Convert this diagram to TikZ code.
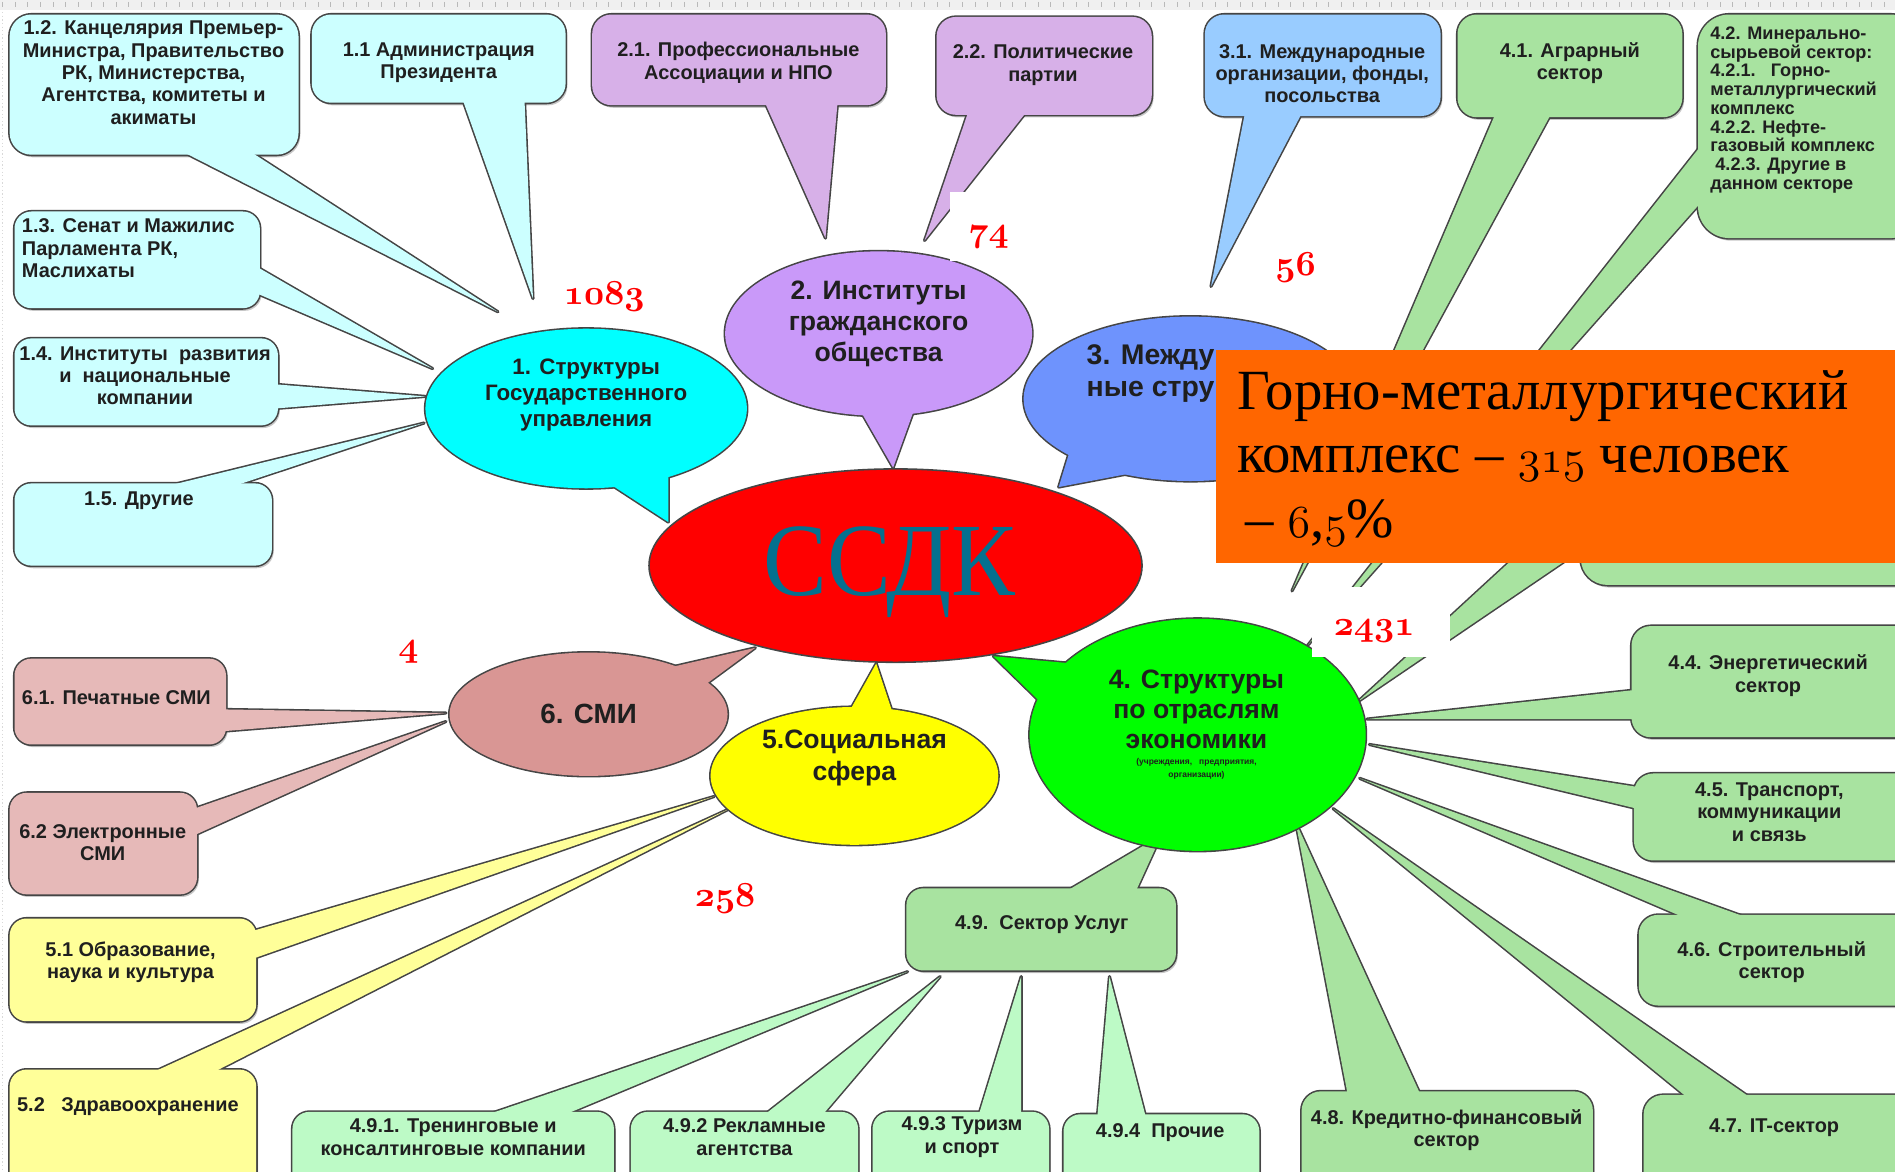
\documentclass[tikz,border=0pt]{standalone}
\usepackage{graphicx}
\usepackage{fontspec}
\setmainfont{Liberation Sans}
\newfontfamily\serf{Liberation Serif}
\newfontfamily\serfc[FakeStretch=0.92]{Liberation Serif}
\usetikzlibrary{shapes.geometric}
\newcommand\osnb[1]{\scalebox{1.166}{\fontencoding{OML}\fontfamily{cmm}\fontseries{b}\fontshape{it}\fontsize{24.88}{26}\selectfont #1}}
\newcommand\osnm[1]{\scalebox{1.527}{\fontencoding{OML}\fontfamily{cmm}\fontseries{m}\fontshape{it}\fontsize{24.88}{26}\selectfont #1}}
\definecolor{edgecol}{HTML}{454545}
\definecolor{txtcol}{HTML}{1F1F1F}
\definecolor{cyanbox}{HTML}{CCFFFF}
\definecolor{cyanell}{HTML}{00FFFF}
\definecolor{purbox}{HTML}{D7B0E8}
\definecolor{purell}{HTML}{C999F9}
\definecolor{bluebox}{HTML}{99CCFF}
\definecolor{blueell}{HTML}{6E93FD}
\definecolor{grnbox}{HTML}{A8E3A0}
\definecolor{grnell}{HTML}{00FF00}
\definecolor{mintbox}{HTML}{BDFAC6}
\definecolor{yelbox}{HTML}{FFFF99}
\definecolor{yelell}{HTML}{FFFF00}
\definecolor{rosebox}{HTML}{E6B9B8}
\definecolor{roseell}{HTML}{D99694}
\definecolor{redell}{HTML}{FF0000}
\definecolor{orng}{HTML}{FF6600}
\definecolor{tealtxt}{HTML}{05708F}
% callout box: fill, radius, corner1, corner2, base A, base B, tip
\newcommand\CBox[7]{%
  \fill[black,opacity=0.22,rounded corners=#2,shift={(1.5,2.2)}] #3 rectangle #4;
  \draw[outl,rounded corners=#2] #3 rectangle #4;
  \draw[outl] #5 -- #7 -- #6 -- cycle;
  \fill[#1,rounded corners=#2] #3 rectangle #4;
  \fill[#1] #5 -- #7 -- #6 -- cycle;}
% callout ellipse: fill, centre, rx, ry, base A, base B, tip
\newcommand\CEll[7]{%
  \draw[outl] #2 ellipse [x radius=#3,y radius=#4];
  \draw[outl] #5 -- #7 -- #6 -- cycle;
  \fill[#1] #2 ellipse [x radius=#3,y radius=#4];
  \fill[#1] #5 -- #7 -- #6 -- cycle;}
\begin{document}
\begin{tikzpicture}[x=1pt,y=-1pt,
  outl/.style={draw=edgecol,line width=2.6pt,line join=round},
  lbl/.style={font=\bfseries\fontsize{16.5}{18.5}\selectfont,text=txtcol,align=center,inner sep=0pt},
  lbls/.style={font=\bfseries\fontsize{15}{15.5}\selectfont,text=txtcol,align=left,inner sep=0pt},
  elbl/.style={font=\bfseries\fontsize{22}{25.5}\selectfont,text=txtcol,align=center,inner sep=0pt},
  num/.style={text=red,inner sep=0pt,anchor=base},
  otxt/.style={anchor=base west,inner sep=0pt,text=black,font=\serf\fontsize{47}{50}\selectfont},
  whitelab/.style={fill=white,draw=none}]
\useasboundingbox (0,0) rectangle (1568,969);
\clip (0,0) rectangle (1568,969);
\fill[white] (0,0) rectangle (1568,969);
% ruler strip and page edge
\fill[gray!12] (0,0) rectangle (1568,8);
\foreach \i in {0,...,150} \draw[gray!55,line width=0.5pt] (\i*10.45+2,1.5) -- (\i*10.45+2,6);
\draw[gray!30,dotted,line width=1pt] (2,10) -- (2,969);

% ---------- group 1 ----------
\CBox{cyanbox}{18pt}{(8,12)}{(247,128)}{(152,126)}{(208,126)}{(412,258)}
\node[lbl] (t12) at (127,60) {1.2. Канцелярия Премьер-\\Министра, Правительство\\РК, Министерства,\\Агентства, комитеты и\\акиматы};
\CBox{cyanbox}{16pt}{(258,12)}{(468,85)}{(383,83)}{(434,83)}{(441,247)}
\node[lbl] (t11) at (363,52) {1.1 Администрация\\Президента};
\CBox{cyanbox}{14pt}{(12,175)}{(215,255)}{(213,221)}{(213,243)}{(358,305)}
\node[lbl,align=left,anchor=north west] (t13) at (18,181) {1.3. Сенат и Мажилис\\Парламента РК,\\Маслихаты};
\CBox{cyanbox}{14pt}{(12,280)}{(230,352)}{(228,318)}{(228,338)}{(352,328)}
\node[lbl] (t14) at (120,311) {1.4. Институты\ \ развития\\и\ \ национальные\\компании};
\CBox{cyanbox}{14pt}{(12,400)}{(225,468)}{(139,402)}{(194,402)}{(351,350)}
\node[lbl] (t15) at (115,414) {1.5. Другие};
\CEll{cyanell}{(485,338)}{133}{66}{(507,402)}{(553,392)}{(553,432)}
\node[lbl,font=\bfseries\fontsize{18.5}{21.5}\selectfont] (e1) at (485,327) {1. Структуры\\Государственного\\управления};

% ---------- group 2 ----------
\CBox{purbox}{16pt}{(490,12)}{(733,87)}{(633,85)}{(693,85)}{(683,197)}
\node[lbl] (t21) at (611,52) {2.1. Профессиональные\\Ассоциации и НПО};
\CBox{purbox}{16pt}{(775,14)}{(953,95)}{(801,93)}{(849,93)}{(765,199)}
\node[lbl] (t22) at (863,54) {2.2. Политические\\партии};
\CEll{purell}{(727,276)}{127}{68}{(712,340)}{(756,340)}{(739,387)}
\node[elbl] (e2) at (727,268) {2. Институты\\гражданского\\общества};

% ---------- group 3 ----------
\CBox{bluebox}{16pt}{(997,12)}{(1192,96)}{(1030,94)}{(1077,94)}{(1002,237)}
\node[lbl] (t31) at (1094,61) {3.1. Международные\\организации, фонды,\\посольства};
\CEll{blueell}{(985,330)}{138}{68}{(888,364)}{(939,391)}{(876,403)}
\node[elbl,align=left,anchor=west,font=\bfseries\fontsize{23.5}{26}\selectfont] (e3) at (899,309) {3. Между\\ные стру};

% ---------- group 4 ----------
\CBox{grnbox}{16pt}{(1206,12)}{(1392,97)}{(1237,95)}{(1283,95)}{(1069,489)}
\node[lbl] (t41) at (1299,52) {4.1. Аграрный\\сектор};
\CBox{grnbox}{26pt}{(1405,12)}{(1590,197)}{(1407,121)}{(1407,168)}{(1082,534)}
\node[lbls,anchor=north west] (t42) at (1415,22) {4.2. Минерально-\\сырьевой сектор:\\4.2.1.\ \ \ Горно-\\металлургический\\комплекс\\4.2.2. Нефте-\\газовый комплекс\\\ 4.2.3. Другие в\\данном секторе};
\CBox{grnbox}{22pt}{(1308,392)}{(1590,484)}{(1310,409)}{(1310,454)}{(1123,581)}
\CBox{grnbox}{16pt}{(1350,518)}{(1590,610)}{(1352,571)}{(1352,595)}{(1131,595)}
\node[lbl] (t44) at (1463,559) {4.4. Энергетический\\сектор};
\CBox{grnbox}{16pt}{(1352,640)}{(1590,712)}{(1354,651)}{(1354,669)}{(1133,616)}
\node[lbl] (t45) at (1464,672) {4.5. Транспорт,\\коммуникации\\и связь};
\CBox{grnbox}{16pt}{(1356,757)}{(1590,832)}{(1393,759)}{(1445,759)}{(1125,644)}
\node[lbl] (t46) at (1466,796) {4.6. Строительный\\сектор};
\CBox{grnbox}{16pt}{(1360,906)}{(1590,995)}{(1396,908)}{(1448,908)}{(1103,669)}
\node[lbl] (t47) at (1468,933) {4.7. IT-сектор};
\CBox{grnbox}{16pt}{(1077,903)}{(1318,995)}{(1115,905)}{(1175,905)}{(1072,680)}
\node[lbl] (t48) at (1197,935) {4.8. Кредитно-финансовый\\сектор};
\CBox{mintbox}{14pt}{(242,920)}{(508,995)}{(404,922)}{(468,922)}{(751,804)}
\node[lbl] (t491) at (375,941) {4.9.1. Тренинговые и\\консалтинговые компании};
\CBox{mintbox}{14pt}{(522,920)}{(710,995)}{(633,922)}{(681,922)}{(778,808)}
\node[lbl] (t492) at (616,941) {4.9.2 Рекламные\\агентства};
\CBox{mintbox}{14pt}{(722,920)}{(868,995)}{(810,922)}{(845,922)}{(845,808)}
\node[lbl] (t493) at (796,941) {4.9.3 Туризм\\и спорт};
\CBox{mintbox}{14pt}{(880,922)}{(1042,995)}{(908,924)}{(948,924)}{(918,808)}
\node[lbl] (t494) at (960,937) {4.9.4\ \ Прочие};
\CBox{grnbox}{14pt}{(750,735)}{(973,803)}{(883,737)}{(940,737)}{(961,691)}
\node[lbl] (t49) at (862,765) {4.9.\ \ Сектор Услуг};
\CEll{grnell}{(991,608)}{139}{96}{(865,585)}{(898,550)}{(822,543)}
\node[elbl,font=\bfseries\fontsize{22}{25}\selectfont] (e4) at (990,587) {4. Структуры\\по отраслям\\экономики};
\node[lbl,font=\bfseries\fontsize{7}{10.5}\selectfont] (e4s) at (990,636) {(учреждения,\ \ \ предприятия,\\организации)};

% ---------- group 5 ----------
\CBox{yelbox}{14pt}{(8,760)}{(212,845)}{(210,770)}{(210,793)}{(591,659)}
\node[lbl] (t51) at (108,796) {5.1 Образование,\\наука и культура};
\CBox{yelbox}{14pt}{(8,885)}{(212,995)}{(127,887)}{(177,887)}{(604,669)}
\node[lbl,anchor=west] (t52) at (14,916) {5.2\ \ \ Здравоохранение};
\CEll{yelell}{(707,642)}{119}{57}{(702,590)}{(740,594)}{(725,549)}
\node[elbl,font=\bfseries\fontsize{22}{26}\selectfont] (e5) at (707,627) {5.Социальная\\сфера};

% ---------- group 6 ----------
\CBox{rosebox}{14pt}{(12,545)}{(187,616)}{(185,587)}{(185,605)}{(369,590)}
\node[lbl,anchor=west] (t61) at (18,577) {6.1. Печатные СМИ};
\CBox{rosebox}{14pt}{(8,656)}{(163,740)}{(161,669)}{(161,691)}{(369,597)}
\node[lbl] (t62) at (85,697) {6.2 Электронные\\СМИ};
\CEll{roseell}{(487,591)}{115}{51}{(551,553)}{(583,567)}{(625,536)}
\node[elbl,font=\bfseries\fontsize{23}{26}\selectfont] (e6) at (487,591) {6. СМИ};

% ---------- centre ----------
\node[ellipse,fill=redell,draw=edgecol,line width=1.3pt,minimum width=408pt,minimum height=160pt,inner sep=0pt] (ssdk) at (741,468) {};
\node[text=tealtxt,font=\serfc\fontsize{86}{86}\selectfont,inner sep=0pt,anchor=base] (ssdkt) at (736,493) {ССДК};

% ---------- orange note ----------
\fill[orng] (1006,290) rectangle (1568,466);
\node[otxt] (o1) at (1024,339) {Горно-металлургический};
\node[otxt] (o2) at (1024,391) {комплекс – \osnm{315} человек};
\node[otxt] (o3) at (1024,445) {\hspace{6pt}– \osnm{6},\osnm{5}\%};

% ---------- counts ----------
\fill[whitelab] (786,159) rectangle (870,216);
\fill[whitelab] (1086,486) rectangle (1200,544);
\node[num] (n1) at (500,252) {\osnb{1083}};
\node[num] (n2) at (818,200) {\osnb{74}};
\node[num] (n3) at (1072,228) {\osnb{56}};
\node[num] (n6) at (338,543) {\osnb{4}};
\node[num] (n5) at (600,750) {\osnb{258}};
\node[num] (n4) at (1137,526) {\osnb{2431}};
\end{tikzpicture}
\end{document}
